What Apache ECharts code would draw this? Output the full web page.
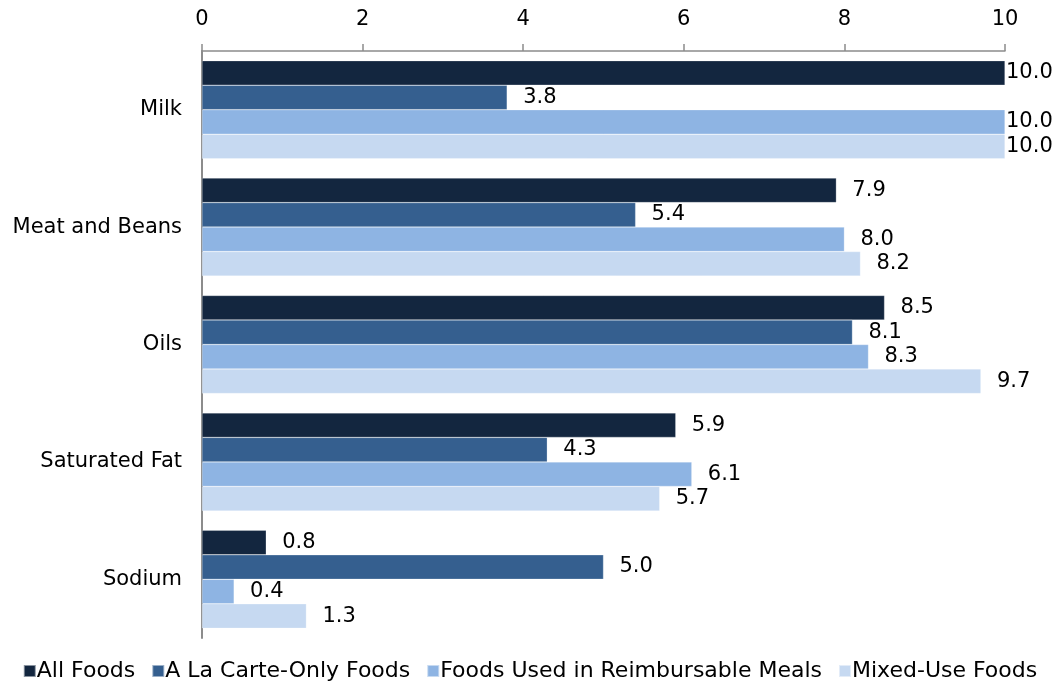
<!DOCTYPE html>
<html><head><meta charset="utf-8">
<script src="https://cdn.jsdelivr.net/npm/echarts@6/dist/echarts.min.js"></script>
<style>html,body{margin:0;padding:0;background:#fff}#c{width:1060px;height:687px}</style>
</head><body><div id="c"></div>
<script>
const categories = ['Milk', 'Meat and Beans', 'Oils', 'Saturated Fat', 'Sodium'];
const seriesNames = ['All Foods', 'A La Carte-Only Foods', 'Foods Used in Reimbursable Meals', 'Mixed-Use Foods'];
const allFoods = [10.0, 7.9, 8.5, 5.9, 0.8];
const aLaCarte = [3.8, 5.4, 8.1, 4.3, 5.0];
const reimbursable = [10.0, 8.0, 8.3, 6.1, 0.4];
const mixedUse = [10.0, 8.2, 9.7, 5.7, 1.3];
const colors = ['#13263f', '#355f8f', '#8eb4e3', '#c6d9f1'];
const values = [allFoods, aLaCarte, reimbursable, mixedUse];
const font = 'DejaVu Sans, Verdana, sans-serif';

const chart = echarts.init(document.getElementById('c'));
chart.setOption({
  animation: false,
  textStyle: {fontFamily: font},
  legend: {
    bottom: 0, left: 'center',
    itemWidth: 12, itemHeight: 12, itemGap: 16,
    icon: 'rect',
    textStyle: {fontSize: 22, color: '#000', fontFamily: font, padding: [0, 0, 0, -4]},
    data: seriesNames
  },
  grid: {left: 202, right: 55, top: 51, bottom: 49, containLabel: false},
  xAxis: {
    type: 'value', position: 'top', min: 0, max: 10, interval: 2,
    axisLine: {show: true, lineStyle: {color: '#8c8c8c', width: 1.5}},
    axisTick: {show: true, length: 7, lineStyle: {color: '#8c8c8c', width: 1.5}},
    axisLabel: {color: '#000', fontSize: 21, margin: 21, fontFamily: font},
    splitLine: {show: false}
  },
  yAxis: {
    type: 'category', inverse: true, data: categories,
    axisLine: {show: true, lineStyle: {color: '#8c8c8c', width: 2}},
    axisTick: {show: false},
    axisLabel: {color: '#000', fontSize: 21, margin: 20, fontFamily: font}
  },
  series: values.map((vals, i) => ({
    name: seriesNames[i], type: 'bar',
    barGap: '0%', barCategoryGap: '16.5%',
    itemStyle: {color: colors[i], borderColor: 'rgba(255,255,255,0.5)', borderWidth: 0.5},
    data: vals.map(v => ({
      value: v,
      label: {distance: v >= 10 ? 1 : 16}
    })),
    label: {
      show: true, position: 'right', color: '#000', fontSize: 21, fontFamily: font,
      formatter: p => p.value.toFixed(1)
    }
  }))
});
</script></body></html>
